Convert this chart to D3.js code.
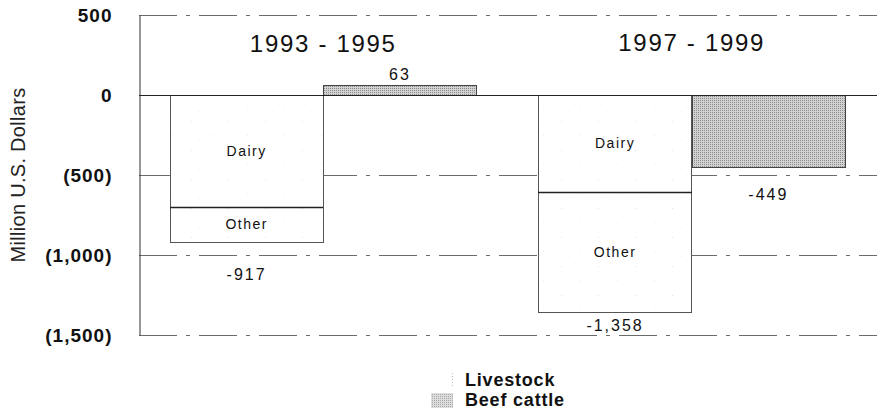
<!DOCTYPE html>
<html>
<head>
<meta charset="utf-8">
<script src="https://cdn.jsdelivr.net/npm/d3@7"></script>
<style>
  html, body { margin: 0; padding: 0; background: #fff; }
  svg { display: block; font-family: Arial, "Liberation Sans", sans-serif; }
</style>
</head>
<body>
<svg id="chart" width="877" height="419"></svg>
<script>
// ---- data ----
const periods = ["1993 - 1995", "1997 - 1999"];
const dairy = [-700, -606];
const other = [-217, -752];
const livestockTotal = [-917, -1358];
const beefCattle = [63, -449];
const yTicks = [500, 0, -500, -1000, -1500];
const yTickLabels = ["500", "0", "(500)", "(1,000)", "(1,500)"];
const seriesNames = ["Livestock", "Beef cattle"];

// ---- layout ----
const svg = d3.select("#chart");
const plotLeft = 139, plotRight = 877, plotTop = 15, plotBottom = 335;

const y = d3.scaleLinear().domain([-1500, 500]).range([plotBottom, plotTop]);
const x0 = d3.scaleBand().domain(periods).range([170, 845]).paddingInner(0.168);
const x1 = d3.scaleBand().domain(seriesNames).range([0, x0.bandwidth()]);

// patterns
const defs = svg.append("defs");
const pBeef = defs.append("pattern").attr("id", "beef").attr("patternUnits", "userSpaceOnUse")
  .attr("width", 2).attr("height", 2);
pBeef.append("rect").attr("width", 2).attr("height", 2).attr("fill", "#d2d2d2");
pBeef.append("rect").attr("width", 1).attr("height", 1).attr("fill", "#8c8c8c");
const pLive = defs.append("pattern").attr("id", "live").attr("patternUnits", "userSpaceOnUse")
  .attr("width", 37).attr("height", 29);
pLive.append("rect").attr("width", 37).attr("height", 29).attr("fill", "#fff");
pLive.append("rect").attr("x", 6).attr("y", 5).attr("width", 1).attr("height", 1).attr("fill", "#e4e4e4");
pLive.append("rect").attr("x", 25).attr("y", 19).attr("width", 1).attr("height", 1).attr("fill", "#ebebeb");
pLive.append("rect").attr("x", 14).attr("y", 24).attr("width", 1).attr("height", 1).attr("fill", "#eeeeee");

// gridlines (non-zero)
svg.append("g").selectAll("line")
  .data(yTicks.filter(d => d !== 0))
  .join("line")
  .attr("x1", plotLeft).attr("x2", plotRight)
  .attr("y1", d => Math.round(y(d)) + 0.5).attr("y2", d => Math.round(y(d)) + 0.5)
  .attr("stroke", "#6a6a6a").attr("stroke-width", 1)
  .attr("stroke-dasharray", "38,9,4,9");

// y axis
const yAxis = d3.axisLeft(y).tickValues(yTicks)
  .tickFormat((d, i) => yTickLabels[i]).tickSize(0).tickPadding(27);
const gy = svg.append("g").attr("transform", `translate(${plotLeft + 0.5},0)`).call(yAxis);
gy.select(".domain").attr("stroke", "#333");
gy.selectAll("text").attr("font-size", 19).attr("font-weight", "bold")
  .attr("letter-spacing", 1)
  .attr("fill", "#111").attr("font-family", "Arial, 'Liberation Sans', sans-serif");

// y axis title
svg.append("text")
  .attr("transform", `translate(25,${y(-500)}) rotate(-90)`)
  .attr("text-anchor", "middle")
  .attr("font-size", 20).attr("letter-spacing", 0.3).attr("fill", "#222")
  .text("Million U.S. Dollars");

// livestock bars: dairy + other stacked
const gL = svg.append("g");
periods.forEach((p, i) => {
  const bx = x0(p) + x1("Livestock");
  const bw = x1.bandwidth();
  gL.append("rect")
    .attr("x", Math.round(bx) + 0.5).attr("y", Math.round(y(0)) + 0.5)
    .attr("width", Math.round(bw)).attr("height", Math.round(y(livestockTotal[i]) - y(0)))
    .attr("fill", "url(#live)").attr("stroke", "#555").attr("stroke-width", 1);
  gL.append("line")
    .attr("x1", Math.round(bx)).attr("x2", Math.round(bx + bw))
    .attr("y1", Math.round(y(dairy[i])) + 0.5).attr("y2", Math.round(y(dairy[i])) + 0.5)
    .attr("stroke", "#222").attr("stroke-width", 1.4);
  gL.append("text")
    .attr("x", bx + bw / 2).attr("y", (y(0) + y(dairy[i])) / 2)
    .attr("dy", "0.35em").attr("text-anchor", "middle")
    .attr("font-size", 14).attr("letter-spacing", 1.5).attr("fill", "#111")
    .text("Dairy");
  gL.append("text")
    .attr("x", bx + bw / 2).attr("y", (y(dairy[i]) + y(dairy[i] + other[i])) / 2)
    .attr("dy", "0.35em").attr("text-anchor", "middle")
    .attr("font-size", 14).attr("letter-spacing", 1.5).attr("fill", "#111")
    .text("Other");
});

// beef bars
svg.append("g").selectAll("rect")
  .data(beefCattle)
  .join("rect")
  .attr("x", (d, i) => Math.round(x0(periods[i]) + x1("Beef cattle")) + 0.5)
  .attr("y", d => Math.round(y(Math.max(0, d))) + 0.5)
  .attr("width", Math.round(x1.bandwidth()))
  .attr("height", d => Math.round(Math.abs(y(d) - y(0))))
  .attr("fill", "url(#beef)").attr("stroke", "#444").attr("stroke-width", 1);

// zero line
svg.append("line")
  .attr("x1", plotLeft).attr("x2", plotRight)
  .attr("y1", Math.round(y(0)) + 0.5).attr("y2", Math.round(y(0)) + 0.5)
  .attr("stroke", "#222").attr("stroke-width", 1.2);

// period titles
svg.append("g").selectAll("text")
  .data(periods)
  .join("text")
  .attr("x", d => x0(d) + x0.bandwidth() / 2)
  .attr("y", (d, i) => i === 0 ? 52 : 51)
  .attr("text-anchor", "middle")
  .attr("font-size", 24).attr("letter-spacing", 1.7).attr("fill", "#111")
  .text(d => d);

// value labels
const fmt = v => d3.format(",")(v).replace("\u2212", "-");
const valueLabels = [
  { v: livestockTotal[0], x: x0(periods[0]) + x1("Livestock") + x1.bandwidth() / 2, dy: 38 },
  { v: beefCattle[0], x: x0(periods[0]) + x1("Beef cattle") + x1.bandwidth() / 2, dy: -5 },
  { v: livestockTotal[1], x: x0(periods[1]) + x1("Livestock") + x1.bandwidth() / 2, dy: 19 },
  { v: beefCattle[1], x: x0(periods[1]) + x1("Beef cattle") + x1.bandwidth() / 2, dy: 33 }
];
svg.append("g").selectAll("text")
  .data(valueLabels)
  .join("text")
  .attr("x", d => d.x)
  .attr("y", d => y(d.v) + d.dy)
  .attr("text-anchor", "middle")
  .attr("font-size", 16).attr("letter-spacing", 2).attr("fill", "#111")
  .text(d => fmt(d.v));

// legend
const lg = svg.append("g");
lg.append("line").attr("x1", 452.5).attr("x2", 452.5).attr("y1", 373).attr("y2", 386)
  .attr("stroke", "#bbb").attr("stroke-dasharray", "1,2");
lg.append("rect").attr("x", 431).attr("y", 393).attr("width", 22).attr("height", 15)
  .attr("fill", "url(#beef)").attr("opacity", 0.75);
lg.selectAll("text")
  .data(seriesNames)
  .join("text")
  .attr("x", 465)
  .attr("y", (d, i) => 386 + i * 20)
  .attr("font-size", 18).attr("font-weight", "bold").attr("letter-spacing", 0.8)
  .attr("fill", "#111")
  .text(d => d);
</script>
</body>
</html>
